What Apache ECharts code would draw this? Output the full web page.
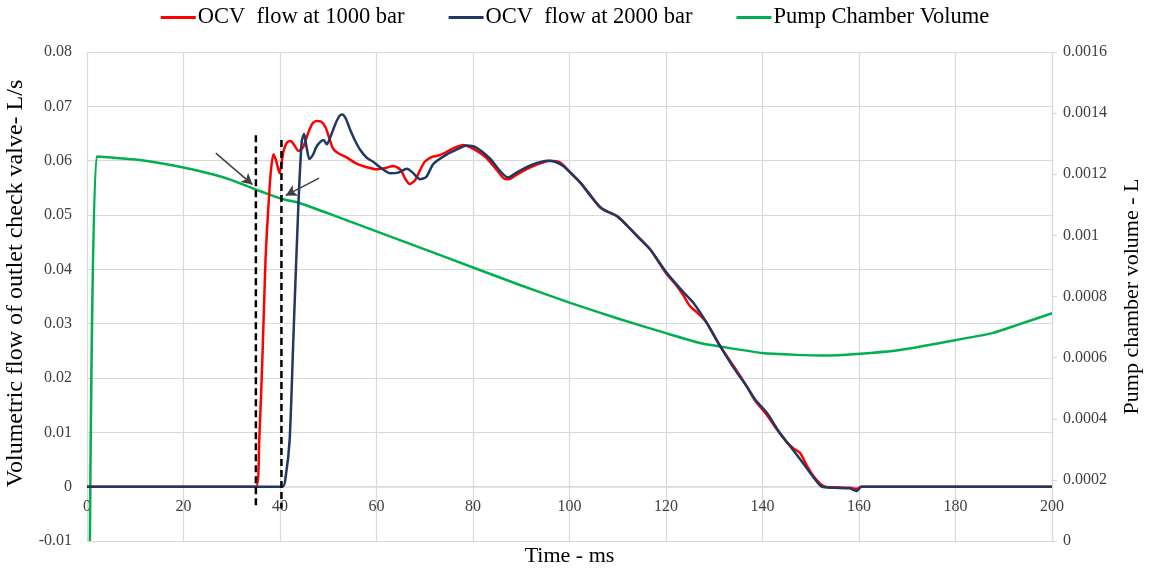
<!DOCTYPE html>
<html>
<head>
<meta charset="utf-8">
<script src="https://cdn.jsdelivr.net/npm/echarts@6/dist/echarts.min.js"></script>
<style>
  html, body { margin: 0; padding: 0; background: #fff; }
  #chart { width: 1150px; height: 571px; }
</style>
</head>
<body>
<div id="chart"></div>
<script>
// Outlet check valve flow at two rail pressures (L/s), left axis
const time1000 = [0, 35.0, 35.7, 36.4, 37.0, 37.6, 38.1, 38.65, 39.2, 39.9, 40.3, 40.8, 41.5, 42.2, 43.0, 43.8, 44.8, 45.8, 46.7, 47.6, 48.5, 49.4, 50.2, 51.0, 52.0, 53.8, 56.0, 58.0, 60.0, 62.0, 63.5, 65.0, 66.0, 66.9, 68.0, 69.0, 70.0, 71.5, 73.0, 74.5, 76.0, 78.0, 80.0, 82.8, 85.0, 86.5, 87.5, 89.0, 91.0, 93.0, 96.0, 98.0, 100.0, 102.5, 104.5, 106.3, 108.0, 110.0, 112.0, 114.0, 116.7, 118.5, 120.1, 122.0, 123.6, 125.0, 126.5, 128.4, 131.2, 134.0, 136.7, 138.5, 140.9, 143.0, 145.0, 146.5, 147.8, 149.0, 150.5, 152.0, 153.0, 155.0, 158.0, 159.5, 160.5, 200];
const flow1000 = [0, 0, 0.0086, 0.025, 0.0418, 0.0516, 0.058, 0.0612, 0.060, 0.0577, 0.0595, 0.062, 0.0634, 0.0636, 0.0628, 0.0618, 0.0625, 0.065, 0.0668, 0.0673, 0.0672, 0.0662, 0.0642, 0.0622, 0.0614, 0.0606, 0.0594, 0.0588, 0.0584, 0.0587, 0.059, 0.0583, 0.0566, 0.0557, 0.0564, 0.0582, 0.0598, 0.0607, 0.061, 0.0616, 0.0623, 0.0629, 0.0622, 0.0605, 0.0582, 0.0567, 0.0566, 0.0574, 0.0584, 0.0592, 0.0600, 0.0597, 0.058, 0.0557, 0.0535, 0.0514, 0.0506, 0.0497, 0.048, 0.0462, 0.0437, 0.0413, 0.0392, 0.0372, 0.0352, 0.0332, 0.032, 0.0302, 0.0259, 0.0222, 0.0185, 0.0158, 0.0132, 0.0105, 0.0082, 0.0070, 0.0062, 0.0042, 0.002, 0.0005, 0, -0.0001, -0.0002, -0.0004, 0, 0];

const time2000 = [0, 40.5, 41.2, 42.0, 42.8, 43.8, 44.5, 45.0, 45.5, 46.1, 46.8, 47.5, 48.3, 49.0, 49.7, 50.5, 51.5, 52.3, 52.9, 53.6, 54.5, 55.5, 56.6, 58.0, 59.3, 61.0, 62.8, 64.5, 66.3, 67.5, 69.0, 70.3, 71.8, 74.5, 77.0, 78.7, 80.5, 83.5, 85.5, 87.3, 89.0, 91.1, 93.0, 95.3, 97.0, 98.7, 100.5, 102.2, 104.9, 107.0, 109.8, 112.0, 114.0, 116.7, 120.1, 123.6, 125.7, 128.4, 131.2, 134.0, 136.7, 138.5, 140.9, 143.5, 145.7, 148.0, 150.5, 152.3, 155.0, 158.0, 159.5, 160.5, 200];
const flow2000 = [0, 0, 0.002, 0.0086, 0.028, 0.0516, 0.0635, 0.0649, 0.0625, 0.0603, 0.061, 0.0625, 0.0634, 0.0638, 0.063, 0.0645, 0.0668, 0.0682, 0.0685, 0.0678, 0.0658, 0.0638, 0.062, 0.0605, 0.0598, 0.0586, 0.0577, 0.0578, 0.0585, 0.0578, 0.0566, 0.057, 0.0594, 0.0611, 0.0622, 0.0628, 0.0625, 0.0604, 0.0582, 0.0569, 0.0578, 0.0588, 0.0595, 0.0600, 0.0598, 0.059, 0.0575, 0.056, 0.0529, 0.0510, 0.0498, 0.048, 0.0461, 0.0437, 0.0394, 0.0358, 0.0338, 0.0302, 0.0259, 0.0219, 0.0185, 0.016, 0.0136, 0.01, 0.0075, 0.0048, 0.0018, 0, -0.0002, -0.0003, -0.0008, 0, 0];

// Pump chamber volume (L), right axis
const timeVol = [0.6, 2.0, 5, 10, 15, 20, 26, 30, 34.5, 40.3, 44, 50, 60, 70, 80, 90, 100, 110, 120, 127, 131, 140, 147, 152.6, 159.5, 168.5, 179.9, 187.8, 193, 200];
const chamberVol = [0, 0.001258, 0.001255, 0.001248, 0.001237, 0.001222, 0.0012, 0.001181, 0.001153, 0.00112, 0.001106, 0.001072, 0.001013, 0.000954, 0.000895, 0.000836, 0.00078, 0.000728, 0.00068, 0.000648, 0.000637, 0.000615, 0.000609, 0.000607, 0.000612, 0.000625, 0.000657, 0.000681, 0.000708, 0.000745];

// Valve opening instants (dashed markers) and their vertical extent
const openTimes = [35.0, 40.3];
const openTops = [0.0647, 0.0638];
const openBottom = -0.004;

// Annotation arrows pointing at the opening instants: [fromT, fromQ, toT, toQ]
const arrows = [
  [26.7, 0.0614, 34.3, 0.0556],
  [48.1, 0.0568, 41.2, 0.0536]
];

const seriesNames = ['OCV  flow at 1000 bar', 'OCV  flow at 2000 bar', 'Pump Chamber Volume'];
const xTicks = { min: 0, max: 200, interval: 20 };
const yLeft = { min: -0.01, max: 0.08, interval: 0.01 };
const yRight = { min: 0, max: 0.0016, interval: 0.0002 };

const zip = (xs, ys) => xs.map((x, i) => [x, ys[i]]);
const serif = 'Liberation Serif, "Times New Roman", serif';
const gridColor = '#d9d9d9';
const labelColor = '#404040';
const tickSize = 16;

// Plot box in pixels; the time axis sits on the zero-flow line, one band above the bottom
const gridBox = { left: 87, right: 98, top: 52, bottom: 30 };
const plotHeight = 571 - gridBox.top - gridBox.bottom;
const zeroLift = plotHeight * (0 - yLeft.min) / (yLeft.max - yLeft.min);

const chart = echarts.init(document.getElementById('chart'), null, { renderer: 'canvas' });

const dashedMarkers = openTimes.map((t, i) => ({
  type: 'line',
  name: 'marker' + i,
  yAxisIndex: 0,
  data: [[t, openTops[i]], [t, openBottom]],
  symbol: 'none',
  silent: true,
  z: 5,
  lineStyle: { color: '#000', width: 2.5, type: [7, 4] }
}));

chart.setOption({
  animation: false,
  grid: Object.assign({ containLabel: false, outerBoundsMode: 'none' }, gridBox),
  legend: {
    data: seriesNames,
    top: 1,
    left: 'center',
    itemGap: 44,
    itemWidth: 35,
    itemHeight: 3,
    icon: 'rect',
    textStyle: { fontFamily: serif, fontSize: 22.5, color: '#000', padding: [0, 0, 0, -3] }
  },
  xAxis: {
    type: 'value',
    min: xTicks.min,
    max: xTicks.max,
    interval: xTicks.interval,
    offset: -zeroLift,
    name: 'Time - ms',
    nameLocation: 'middle',
    nameGap: 59,
    nameTextStyle: { fontFamily: serif, fontSize: 22, color: '#000' },
    axisLine: { onZero: false, lineStyle: { color: gridColor, width: 1.5 } },
    axisTick: { show: false },
    axisLabel: { fontFamily: serif, fontSize: tickSize, color: labelColor, margin: 12 },
    splitLine: { show: true, lineStyle: { color: gridColor, width: 1.2 } }
  },
  yAxis: [
    {
      type: 'value',
      position: 'left',
      min: yLeft.min,
      max: yLeft.max,
      interval: yLeft.interval,
      name: 'Volumetric flow of outlet check valve- L/s',
      nameLocation: 'middle',
      nameGap: 57,
      nameTextStyle: { fontFamily: serif, fontSize: 24, color: '#000', padding: [0, 0, 0, 26] },
      axisLine: { show: false },
      axisTick: { show: false },
      axisLabel: { fontFamily: serif, fontSize: tickSize, color: labelColor, margin: 15 },
      splitLine: { show: true, lineStyle: { color: gridColor, width: 1.2 } }
    },
    {
      type: 'value',
      position: 'right',
      min: yRight.min,
      max: yRight.max,
      interval: yRight.interval,
      name: 'Pump chamber volume - L',
      nameLocation: 'middle',
      nameGap: 69,
      nameRotate: 90,
      nameTextStyle: { fontFamily: serif, fontSize: 22, color: '#000' },
      axisLine: { show: true, lineStyle: { color: gridColor, width: 1.2 } },
      axisTick: { show: true, length: 5, lineStyle: { color: gridColor } },
      axisLabel: { fontFamily: serif, fontSize: tickSize, color: labelColor, margin: 11 },
      splitLine: { show: false }
    }
  ],
  series: [
    {
      type: 'line',
      name: seriesNames[0],
      yAxisIndex: 0,
      data: zip(time1000, flow1000),
      symbol: 'none',
      smooth: 0.25,
      z: 3,
      color: '#ff0000',
      lineStyle: { color: '#ff0000', width: 2.5 }
    },
    {
      type: 'line',
      name: seriesNames[1],
      yAxisIndex: 0,
      data: zip(time2000, flow2000),
      symbol: 'none',
      smooth: 0.25,
      z: 4,
      color: '#1f3864',
      lineStyle: { color: '#1f3864', width: 2.5 },
      markLine: {
        silent: true,
        symbol: ['none', 'arrow'],
        symbolSize: [9, 11],
        label: { show: false },
        lineStyle: { color: '#404040', width: 1.5, type: 'solid' },
        data: arrows.map(a => [{ coord: [a[0], a[1]] }, { coord: [a[2], a[3]] }])
      }
    },
    {
      type: 'line',
      name: seriesNames[2],
      yAxisIndex: 1,
      data: zip(timeVol, chamberVol),
      symbol: 'none',
      smooth: 0.2,
      z: 2,
      color: '#00b050',
      lineStyle: { color: '#00b050', width: 2.5 }
    },
    ...dashedMarkers
  ]
});
</script>
</body>
</html>
